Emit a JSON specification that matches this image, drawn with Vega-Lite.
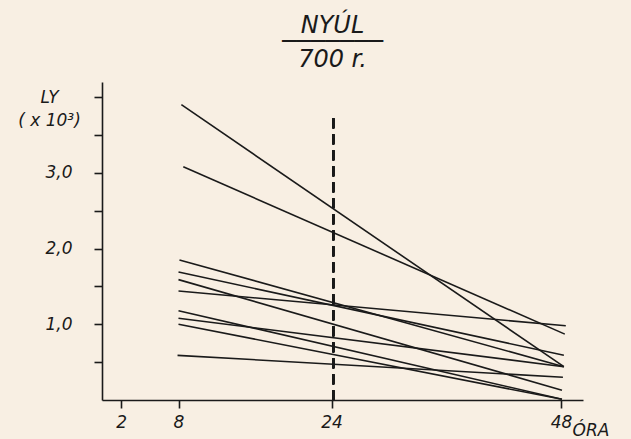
{
  "$schema": "https://vega.github.io/schema/vega-lite/v6.json",
  "autosize": {"type": "none"},
  "padding": {"left": 102, "top": 82, "right": 48, "bottom": 39},
  "width": 481,
  "height": 318,
  "background": "#f8efe3",
  "title": {
    "text": "NYÚL",
    "subtitle": ["───────", "700 r."],
    "anchor": "middle",
    "dx": -10,
    "offset": 10,
    "font": "DejaVu Sans",
    "fontStyle": "italic",
    "fontWeight": "normal",
    "fontSize": 24,
    "color": "#1a1a1a",
    "subtitleFont": "DejaVu Sans",
    "subtitleFontStyle": "italic",
    "subtitleFontSize": 24,
    "subtitleColor": "#1a1a1a",
    "subtitleLineHeight": 18,
    "subtitlePadding": -8
  },
  "config": {
    "view": {"stroke": null},
    "axis": {
      "grid": false,
      "domainColor": "#1a1a1a",
      "domainWidth": 1.6,
      "tickColor": "#1a1a1a",
      "tickWidth": 1.6,
      "tickSize": 8,
      "labelFont": "DejaVu Sans",
      "labelFontStyle": "italic",
      "labelFontSize": 17,
      "labelColor": "#1a1a1a",
      "titleFont": "DejaVu Sans",
      "titleFontStyle": "italic",
      "titleFontWeight": "normal",
      "titleFontSize": 17,
      "titleColor": "#1a1a1a"
    }
  },
  "data": {
    "values": [
      {"line": "L1", "hour": 8.3, "value": 3.90},
      {"line": "L1", "hour": 48.3, "value": 0.44},
      {"line": "L2", "hour": 8.5, "value": 3.08},
      {"line": "L2", "hour": 48.4, "value": 0.87},
      {"line": "A", "hour": 8.1, "value": 1.85},
      {"line": "A", "hour": 48.3, "value": 0.44},
      {"line": "B", "hour": 8.0, "value": 1.69},
      {"line": "B", "hour": 48.3, "value": 0.59},
      {"line": "C", "hour": 8.0, "value": 1.59},
      {"line": "C", "hour": 48.1, "value": 0.13},
      {"line": "D", "hour": 8.0, "value": 1.44},
      {"line": "D", "hour": 48.5, "value": 0.98},
      {"line": "E", "hour": 8.0, "value": 1.18},
      {"line": "E", "hour": 48.1, "value": 0.01},
      {"line": "F", "hour": 8.0, "value": 1.08},
      {"line": "F", "hour": 48.3, "value": 0.44},
      {"line": "G", "hour": 8.0, "value": 1.00},
      {"line": "G", "hour": 48.1, "value": 0.01},
      {"line": "H", "hour": 7.9, "value": 0.59},
      {"line": "H", "hour": 48.2, "value": 0.30}
    ]
  },
  "layer": [
    {
      "mark": {"type": "rule", "strokeDash": [10, 6], "strokeWidth": 1.5, "color": "#1a1a1a"},
      "encoding": {
        "x": {"datum": 24.2, "type": "quantitative"},
        "y": {"datum": 3.72, "type": "quantitative"},
        "y2": {"datum": 0}
      }
    },
    {
      "mark": {"type": "line", "color": "#1a1a1a", "strokeWidth": 1.6},
      "encoding": {
        "detail": {"field": "line", "type": "nominal"},
        "x": {
          "field": "hour",
          "type": "quantitative",
          "scale": {"domain": [0, 50.3], "nice": false, "zero": false},
          "axis": {
            "values": [2, 8, 24, 48],
            "labelPadding": 6,
            "title": "ÓRA",
            "titleX": 470,
            "titleY": 35,
            "titleAlign": "left",
            "titleBaseline": "alphabetic",
            "titleAnchor": null
          }
        },
        "y": {
          "field": "value",
          "type": "quantitative",
          "scale": {"domain": [0, 4.2], "nice": false},
          "axis": {
            "values": [0.5, 1, 1.5, 2, 2.5, 3, 3.5, 4],
            "labelExpr": "(datum.value == 1 || datum.value == 2 || datum.value == 3) ? replace(format(datum.value, '.1f'), '.', ',') : ''",
            "labelPadding": 22,
            "title": ["LY", "( x 10³)"],
            "titleAngle": 0,
            "titleX": -53,
            "titleY": 20,
            "titleAlign": "center",
            "titleBaseline": "alphabetic",
            "titleLineHeight": 23
          }
        }
      }
    }
  ]
}
